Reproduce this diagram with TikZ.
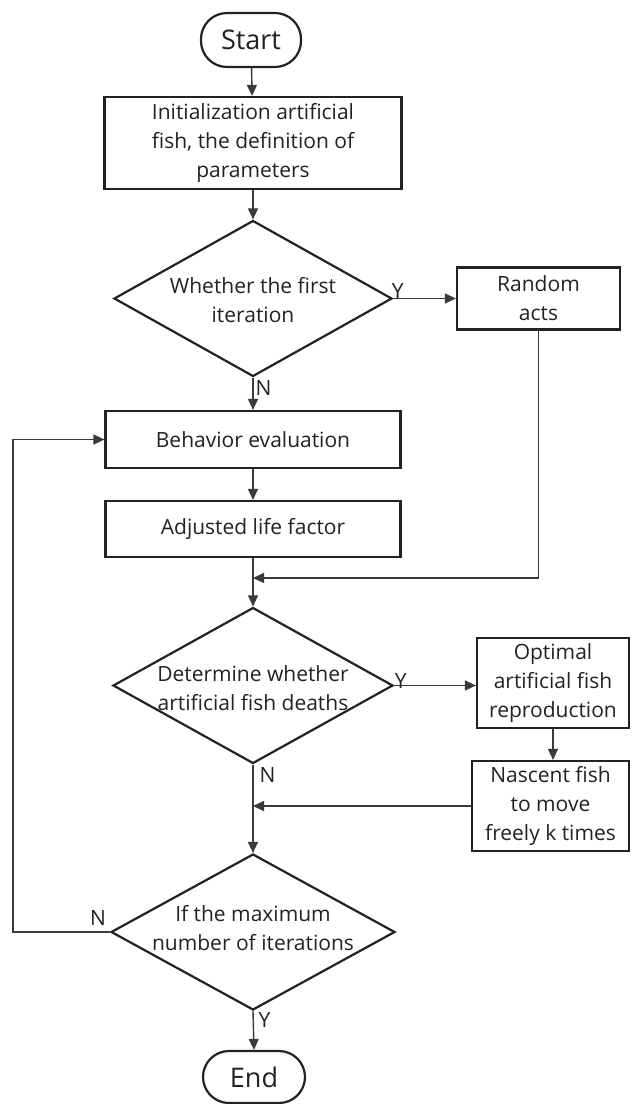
\documentclass[tikz,border=0pt]{standalone}
\usepackage{fontspec}
\setmainfont{Open Sans}
\usetikzlibrary{shapes.geometric,arrows.meta}
\newcommand\fsz{\fontsize{21}{29}\selectfont}
\newcommand\tsz{\fontsize{27}{32}\selectfont}
\definecolor{ink}{HTML}{222222}
\definecolor{wire}{HTML}{3A3A3A}
\begin{document}
\begin{tikzpicture}[x=1pt,y=-1pt,
  box/.style={draw=ink, line width=2.2pt, rectangle, inner sep=0pt, align=center, font=\fsz, text=ink},
  term/.style={box, rounded corners=26pt, font=\tsz},
  dec/.style={draw=ink, line width=2.2pt, diamond, inner sep=0pt, minimum width=#1, minimum height=156pt},
  dtext/.style={align=center, font=\fsz, text=ink, inner sep=0pt},
  lbl/.style={font=\fsz, text=ink, inner sep=0pt},
  conn/.style={draw=wire, line width=1.4pt, -{Triangle[length=11pt,width=10pt]}},
  plain/.style={draw=wire, line width=1.4pt}]
\useasboundingbox (0,0) rectangle (632,1104);
\fill[white] (0,0) rectangle (632,1104);

\node[term, minimum width=100pt, minimum height=54pt] (start) at (251,40) {Start};
\node[box, minimum width=297pt, minimum height=92pt] (init) at (253,143)
  {Initialization artificial\\fish, the definition of\\parameters};
\node[dec=278pt] (d1) at (253,298.5) {};
\node[dtext] (d1t) at (253,300) {Whether the first\\iteration};
\node[box, minimum width=163pt, minimum height=62pt] (ra) at (538.5,298.5) {Random\\acts};
\node[box, minimum width=295pt, minimum height=57pt] (beh) at (253,439.5) {Behavior evaluation};
\node[box, minimum width=295pt, minimum height=56pt] (adj) at (253,529) {Adjusted life factor};
\node[dec=280pt] (d2) at (253,685.5) {};
\node[dtext] (d2t) at (253,688) {Determine whether\\artificial fish deaths};
\node[box, minimum width=152pt, minimum height=90pt] (opt) at (553,683) {Optimal\\artificial fish\\reproduction};
\node[box, minimum width=157pt, minimum height=90pt] (nas) at (550.5,806) {Nascent fish\\to move\\freely k times};
\node[dec=284pt] (d3) at (253,932) {};
\node[dtext] (d3t) at (253,928) {If the maximum\\number of iterations};
\node[term, minimum width=102pt, minimum height=52pt] (end) at (254,1077) {End};

\coordinate (m1) at (253,578);
\coordinate (m2) at (253,806);
\coordinate (loopc) at (13,932);

\draw[conn] (start) -- (init);
\draw[conn] (init) -- (d1);
\draw[conn] (d1.east) -- (ra.west) node[lbl, pos=0, above right, xshift=-2pt, yshift=-1pt] {Y};
\draw[conn] (d1.south) -- (beh.north) node[lbl, pos=0, below right, xshift=2pt, yshift=-2pt] {N};
\draw[conn] (beh) -- (adj);
\draw[conn] (adj) -- (d2);
\draw[conn] (ra.south) |- (m1);
\draw[conn] (d2.east) -- (d2.east -| opt.west) node[lbl, pos=0, above right, xshift=0pt, yshift=-4pt] {Y};
\draw[conn] (opt) -- (opt.south |- nas.north);
\draw[conn] (d2.south) -- (d3.north) node[lbl, pos=0, below right, xshift=6pt, yshift=-2pt] {N};
\draw[conn] (nas.west) -- (m2);
\draw[conn] (d3.west) -- (loopc) |- (beh.west);
\node[lbl] (n3) at (98,918) {N};
\draw[conn] (d3.south) -- (end.north) node[lbl, pos=0, below right, xshift=5pt, yshift=-1pt] {Y};
\end{tikzpicture}
\end{document}
